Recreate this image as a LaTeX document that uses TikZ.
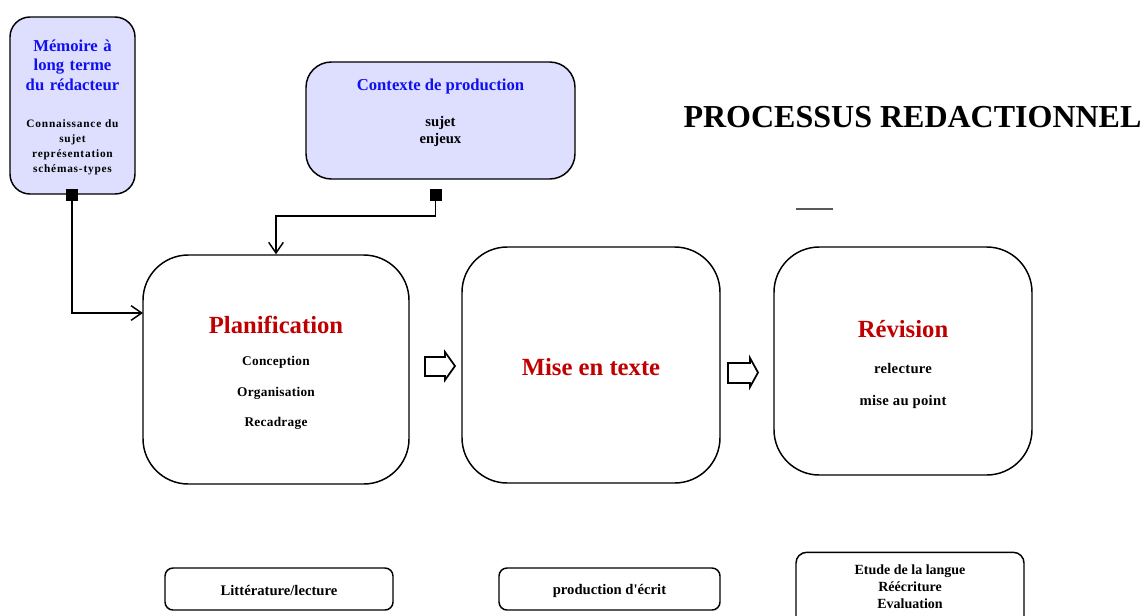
\documentclass[tikz,border=0pt]{standalone}
\usepackage{fontspec}
\setmainfont{Liberation Serif}
\usetikzlibrary{arrows.meta}
\definecolor{boxfill}{HTML}{DEDEFF}
\definecolor{tblue}{HTML}{1010F0}
\definecolor{tred}{HTML}{C00000}
\tikzset{
  rbox/.style={draw=black, line width=1.1pt, rounded corners=#1, inner sep=0pt},
  lav/.style={fill=boxfill},
  txt/.style={font=\bfseries, inner sep=0pt, align=center},
  sq/.style={fill=black, minimum size=9pt, inner sep=0pt},
  conn/.style={line width=1.1pt, -{Straight Barb[length=8pt,width=11pt,line width=1.1pt]}},
  blockarrow/.style={draw=black, line width=1.3pt, fill=white, line join=miter},
}
\newcommand{\fs}[1]{\fontsize{#1}{1.2\dimexpr#1\relax}\selectfont}
\newcommand{\fsb}[2]{\fontsize{#1}{#2}\selectfont}
\begin{document}
\begin{tikzpicture}[x=0.75pt,y=-0.75pt]
\useasboundingbox (0,0) rectangle (1145,615);
% boxes
\node[rbox=15pt, lav, minimum width=93.75pt, minimum height=132.75pt] (mem) at (72.5,105.5) {};
\node[rbox=19pt, lav, minimum width=201.75pt, minimum height=87.75pt] (ctx) at (440.5,120.5) {};
\node[rbox=34pt, minimum width=199.5pt, minimum height=171.75pt] (plan) at (276,369.5) {};
\node[rbox=34pt, minimum width=193.5pt, minimum height=177pt] (mise) at (591,365) {};
\node[rbox=34pt, minimum width=193.5pt, minimum height=171pt] (rev) at (903,361) {};
\node[rbox=6pt, minimum width=171pt, minimum height=31.5pt] (lit) at (279,589) {};
\node[rbox=6pt, minimum width=165.75pt, minimum height=31.5pt] (prod) at (609.5,589) {};
\node[rbox=8pt, minimum width=171pt, minimum height=58pt] (etu) at (910,591) {};
% texts
\node[txt, text=tblue, font=\bfseries\fsb{12.5pt}{14.6pt}, text width=90pt] (memT) at (72.5,65) {Mémoire à\\long terme\\du rédacteur};
\node[txt, font=\bfseries\fsb{8.5pt}{11.3pt}\addfontfeature{LetterSpace=7}, text width=92pt] (memS) at (72.5,147.5) {Connaissance du\\sujet\\représentation\\schémas-types};
\node[txt, text=tblue, font=\bfseries\fs{12.5pt}] (ctxT) at (440.5,86) {Contexte de production};
\node[txt, font=\bfseries\fsb{11pt}{12.75pt}] (ctxS) at (440.5,131) {sujet\\enjeux};
\node[txt, text=tred, font=\bfseries\fs{18.5pt}] (planT) at (276,325) {Planification};
\node[txt, font=\bfseries\fs{10pt}\addfontfeature{LetterSpace=2}] (plan1) at (276,362) {Conception};
\node[txt, font=\bfseries\fs{10pt}\addfontfeature{LetterSpace=2}] (plan2) at (276,393) {Organisation};
\node[txt, font=\bfseries\fs{10pt}\addfontfeature{LetterSpace=2}] (plan3) at (276,423) {Recadrage};
\node[txt, text=tred, font=\bfseries\fs{18.5pt}] (miseT) at (591,367) {Mise en texte};
\node[txt, text=tred, font=\bfseries\fs{18.5pt}] (revT) at (903,329) {Révision};
\node[txt, font=\bfseries\fs{11pt}\addfontfeature{LetterSpace=2}] (rev1) at (903,368) {relecture};
\node[txt, font=\bfseries\fs{11pt}\addfontfeature{LetterSpace=2}] (rev2) at (903,402) {mise au point};
\node[txt, font=\bfseries\fs{11pt}] (litT) at (279,590) {Littérature/lecture};
\node[txt, font=\bfseries\fs{11pt}] (prodT) at (609.5,590.5) {production d\textquotesingle écrit};
\node[txt, font=\bfseries\fsb{10.5pt}{12.75pt}] (etuT) at (910,587) {Etude de la langue\\Réécriture\\Evaluation};
\node[txt, font=\bfseries\fs{24pt}] (title) at (912.5,117) {PROCESSUS REDACTIONNEL};
% connectors
\node[sq] (s1) at (72,194.5) {};
\node[sq] (s2) at (435.5,194.5) {};
\coordinate (c1) at (143,313);
\coordinate (c2) at (276,216);
\draw[conn] (s1.south) |- (c1);
\draw[conn] (s2.south) |- (c2) -- (plan.north);
% block arrows
\draw[blockarrow] (425,357) -- (445,357) -- (445,352) -- (455,366) -- (445,380) -- (445,376) -- (425,376) -- cycle;
\draw[blockarrow] (728,363) -- (750,363) -- (750,358) -- (758,372.5) -- (750,387) -- (750,383) -- (728,383) -- cycle;
% short line
\draw[gray!70!black, line width=0.8pt] (796,209) -- (833,209);
\end{tikzpicture}
\end{document}
